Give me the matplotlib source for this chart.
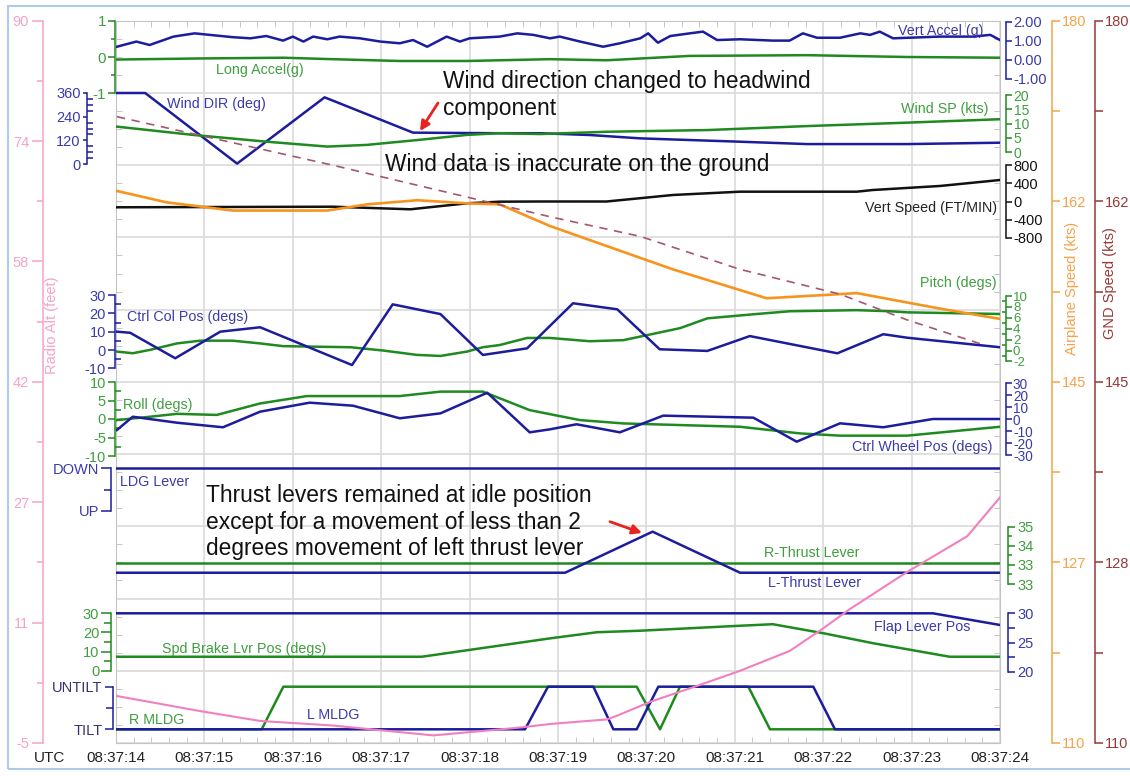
import numpy as np
import matplotlib
matplotlib.use('Agg')
import matplotlib.pyplot as plt
from matplotlib.patches import Rectangle

plt.rcParams['font.family'] = ['Liberation Sans', 'DejaVu Sans']
plt.rcParams['axes.unicode_minus'] = False

W, H = 1130, 776
# plot frame, pixels from top-left
X0, X1 = 116, 1000
Y0, Y1 = 20.7, 743

BLUE = '#1c1c9c'
BLUE_T = '#3b3bab'
GREEN = '#1f8a1f'
GREEN_T = '#3f9f3f'
ORANGE = '#f7941d'
ORANGE_A = '#f5a34a'
BROWN = '#9a3838'
PINK = '#f27fbf'
PINK_A = '#f6a3c8'
DASH = '#a65670'
RED = '#e8231f'

time_labels = ['08:37:14', '08:37:15', '08:37:16', '08:37:17', '08:37:18', '08:37:19',
               '08:37:20', '08:37:21', '08:37:22', '08:37:23', '08:37:24']

# ---- data (seconds after 08:37:14) ----
vert_accel_t = [0.01, 0.23, 0.38, 0.65, 0.89, 1.06, 1.32, 1.52, 1.70, 1.89, 2.00, 2.12, 2.23, 2.39,
                2.53, 2.76, 2.99, 3.21, 3.36, 3.52, 3.74, 3.89, 4.00, 4.34, 4.54, 4.72, 4.91, 5.02,
                5.25, 5.51, 5.70, 5.93, 6.02, 6.13, 6.27, 6.49, 6.64, 6.80, 7.06, 7.43, 7.62, 7.77,
                7.93, 8.19, 8.42, 8.53, 8.64, 8.79, 9.32, 9.69, 9.89, 10.0]
vert_accel = [0.69, 0.96, 0.78, 1.22, 1.39, 1.31, 1.19, 1.13, 1.25, 1.01, 1.22, 0.96, 1.22, 1.08,
              1.22, 1.13, 0.96, 0.87, 1.04, 0.69, 1.22, 0.96, 1.13, 1.22, 1.39, 1.31, 1.13, 1.22,
              0.96, 0.69, 0.87, 1.13, 1.39, 0.90, 1.25, 1.39, 1.48, 1.04, 1.08, 1.01, 1.01, 1.39,
              1.16, 1.16, 1.39, 1.31, 1.48, 1.13, 1.22, 1.22, 1.31, 1.04]

long_accel_t = [0.01, 0.95, 1.89, 2.45, 3.21, 3.97, 4.91, 5.55, 6.49, 7.82, 8.95, 10.0]
long_accel = [-0.07, -0.04, -0.02, -0.06, -0.11, -0.11, -0.06, -0.09, 0.03, 0.05, 0.0, -0.02]

wind_dir_t = [0.01, 0.33, 1.37, 2.36, 3.36, 4.34, 4.80, 5.36, 5.93, 7.06, 7.82, 8.95, 10.0]
wind_dir = [360, 360, 2, 338, 159, 156, 156, 147, 130, 113, 101, 101, 108]

wind_sp_t = [0.01, 0.87, 1.71, 2.39, 2.84, 3.41, 3.97, 4.34, 4.80, 5.55, 6.69, 7.82, 8.95, 10.0]
wind_sp = [8.9, 6.0, 3.6, 1.9, 2.5, 4.2, 6.0, 6.6, 6.3, 7.1, 7.7, 9.1, 10.3, 11.5]

vert_speed_t = [0.01, 2.45, 3.33, 3.97, 4.34, 4.80, 5.55, 6.30, 7.06, 8.38, 8.56, 9.32, 10.0]
vert_speed = [-128, -115, -172, -40, -4, 0, 0, 144, 217, 217, 254, 343, 475]

air_speed_t = [0.01, 0.57, 1.32, 2.39, 2.84, 3.41, 3.97, 4.34, 4.91, 6.30, 7.36, 8.19, 8.38, 9.32, 10.0]
air_speed = [163.5, 162.4, 161.6, 161.6, 162.2, 162.6, 162.3, 162.2, 160.1, 155.9, 153.1, 153.5,
             153.6, 152.1, 151.1]

gnd_speed_t = [0.01, 2.45, 4.91, 5.93, 7.06, 8.19, 8.95, 9.81]
gnd_speed = [170.7, 166.0, 161.0, 159.1, 155.9, 153.5, 151.0, 148.6]

pitch_t = [0.01, 0.19, 0.38, 0.69, 0.95, 1.32, 1.63, 1.89, 2.65, 3.02, 3.40, 3.67, 3.97, 4.15,
           4.34, 4.65, 4.91, 5.36, 5.74, 6.38, 6.69, 7.25, 7.62, 8.38, 8.76, 8.95, 10.0]
pitch = [-0.2, -0.5, 0.1, 1.3, 1.8, 1.8, 1.3, 0.8, 0.6, 0.0, -0.8, -1.0, -0.2, 0.6,
         1.0, 2.3, 2.3, 1.7, 1.9, 4.1, 5.9, 6.7, 7.2, 7.4, 7.2, 7.0, 6.7]

col_pos_t = [0.01, 0.16, 0.67, 1.18, 1.63, 2.67, 3.13, 3.67, 4.15, 4.65, 5.17, 5.67, 6.15, 6.69,
             7.17, 8.16, 8.68, 8.95, 10.0]
col_pos = [10.0, 9.4, -4.5, 10.0, 12.4, -8.2, 24.9, 19.6, -2.7, 0.9, 25.5, 22.2, 0.4, -0.5,
           7.6, -1.8, 8.6, 6.7, 1.5]

roll_t = [0.01, 0.38, 0.69, 1.14, 1.63, 2.16, 3.21, 3.67, 4.15, 4.68, 4.91, 5.25, 5.74, 7.06,
          7.74, 8.19, 8.95, 10.0]
roll = [-0.3, 0.6, 1.4, 1.1, 4.2, 6.2, 6.2, 7.4, 7.4, 2.4, 1.3, -0.3, -1.2, -2.1,
        -3.9, -4.5, -4.5, -2.1]

wheel_pos_t = [0.01, 0.19, 0.69, 1.21, 1.63, 2.19, 2.68, 3.21, 3.67, 4.20, 4.68, 4.91, 5.21, 5.70,
               6.19, 7.21, 7.70, 8.19, 8.68, 9.24, 10.0]
wheel_pos = [-9.2, 1.9, -3.1, -6.9, 6.1, 13.6, 11.1, 0.6, 4.7, 21.9, -11.1, -8.6, -4.4, -11.1,
             2.8, 1.1, -18.9, -3.6, -6.9, 0.0, 0.0]

ldg_lever_t = [0.0, 10.0]
ldg_lever = [1, 1]   # 1 = DOWN

r_thrust_t = [0.0, 10.0]
r_thrust = [33.12, 33.12]
l_thrust_t = [0.0, 5.08, 6.07, 7.06, 10.0]
l_thrust = [32.59, 32.59, 34.74, 32.59, 32.59]

spd_brake_t = [0.0, 3.46, 4.91, 5.44, 5.93, 7.06, 7.43, 8.00, 8.56, 9.43, 10.0]
spd_brake = [7.3, 7.3, 16.9, 20.1, 20.9, 23.5, 24.3, 19.6, 14.4, 7.3, 7.3]

flap_t = [0.0, 9.24, 10.0]
flap = [30, 30, 28.0]

r_mldg_t = [0.0, 1.648, 1.893, 5.89, 6.154, 6.38, 7.153, 7.398, 10.0]
r_mldg = [0, 0, 1, 1, 0, 1, 1, 0, 0]   # 1 = UNTILT
l_mldg_t = [0.0, 4.627, 4.887, 5.40, 5.626, 5.89, 6.135, 7.888, 8.133, 10.0]
l_mldg = [0, 0, 1, 1, 0, 0, 1, 1, 0, 0]

radio_alt_t = [0.0, 0.95, 1.63, 2.45, 3.59, 4.54, 4.91, 5.55, 5.67, 6.04, 6.57, 7.06, 7.62,
               7.99, 8.30, 8.95, 9.63, 10.0]
radio_alt = [1.2, -0.8, -2.1, -2.7, -4.0, -3.0, -2.5, -1.9, -1.4, 0.4, 2.5, 4.5, 7.1,
             10.0, 12.6, 17.5, 22.2, 27.3]

radio_alt_labels = ['-5', '11', '27', '42', '58', '74', '90']
air_speed_labels = ['110', '127', '145', '162', '180']
gnd_speed_labels = ['110', '128', '145', '162', '180']

# ---- figure ----
fig = plt.figure(figsize=(W / 100, H / 100), dpi=100)
fig.patch.set_facecolor('white')
fig.add_artist(Rectangle((8 / W, 1 - 769 / H), 1.2, (769 - 6) / H, transform=fig.transFigure,
                         fill=False, edgecolor='#aecbea', linewidth=1.5))

ax = fig.add_axes([X0 / W, 1 - Y1 / H, (X1 - X0) / W, (Y1 - Y0) / H])
ax.set_xlim(0, 10)
ax.set_ylim(0, 40)
ax.set_xticks(range(11))
ax.set_xticklabels(time_labels)
ax.set_xticks(np.arange(0, 10.01, 0.2), minor=True)
ax.set_yticks(range(0, 41, 4))
ax.set_yticks(range(0, 41), minor=True)
ax.grid(True, which='major', color='#dadada', linewidth=1.2)
for s in ax.spines.values():
    s.set_color('#c4c4c4')


def scale_axis(v_a, p_a, v_b, p_b, side, x_px, color, ticks, labels=None, minor=None,
               major_len=4, minor_len=3, minor_dir='out', pad=1.5, label_color=None, size=11):
    tw = ax.twinx()
    k = (v_b - v_a) / (p_b - p_a)
    tw.set_ylim(v_a + (Y1 - p_a) * k, v_a + (Y0 - p_a) * k)
    for s in tw.spines.values():
        s.set_visible(False)
    sp = tw.spines[side]
    sp.set_visible(True)
    sp.set_position(('axes', (x_px - X0) / (X1 - X0)))
    sp.set_color(color)
    sp.set_linewidth(1.1)
    sp.set_bounds(min(ticks), max(ticks))
    tw.yaxis.set_ticks_position(side)
    tw.set_yticks(ticks)
    if labels is not None:
        tw.set_yticklabels(labels)
    if minor is not None:
        tw.set_yticks(minor, minor=True)
    tw.tick_params(axis='y', which='major', direction='out', length=major_len, width=1.1,
                   color=color, labelcolor=label_color or color, labelsize=size, pad=pad)
    tw.tick_params(axis='y', which='minor', direction=minor_dir, length=minor_len, width=1.1,
                   color=color)
    return tw


# top band
a = scale_axis(1, 20.7, -1, 93.3, 'left', 115, GREEN, [-1, 0, 1], minor=[-0.5, 0.5],
               major_len=5, label_color=GREEN_T)
a.plot(long_accel_t, long_accel, color=GREEN, lw=1.8)
a = scale_axis(2, 21.7, -1, 79, 'right', 1006, BLUE, [-1, 0, 1, 2],
               labels=['-1.00', '0.00', '1.00', '2.00'], label_color=BLUE_T, size=10.5)
a.plot(vert_accel_t, vert_accel, color=BLUE, lw=1.8)

# wind
a = scale_axis(0, 164, 360, 93, 'left', 87, BLUE, [0, 120, 240, 360], minor=list(range(0, 361, 30)),
               major_len=3, minor_len=4, minor_dir='in', label_color=BLUE_T, size=10.5)
a.plot(wind_dir_t, wind_dir, color=BLUE, lw=1.8)
a = scale_axis(0, 152, 20, 95, 'right', 1006, GREEN, [0, 5, 10, 15, 20], label_color=GREEN_T,
               size=10)
a.plot(wind_sp_t, wind_sp, color=GREEN, lw=1.8)

# vertical speed
a = scale_axis(0, 201.5, 800, 165.3, 'right', 1006, '#111111', [-800, -400, 0, 400, 800],
               size=10.5)
a.plot(vert_speed_t, vert_speed, color='#111111', lw=1.8)

# pitch / column
a = scale_axis(0, 350.5, 10, 296, 'right', 1006, GREEN, [-2, 0, 2, 4, 6, 8, 10],
               minor=[-1, 1, 3, 5, 7, 9], minor_len=3, minor_dir='in', label_color=GREEN_T,
               size=9.5, pad=1)
a.plot(pitch_t, pitch, color=GREEN, lw=1.8)
a = scale_axis(0, 350, 30, 295, 'left', 115, BLUE, [-10, 0, 10, 20, 30], minor=[-5, 5, 15, 25],
               major_len=5, minor_len=4, minor_dir='in', label_color=BLUE_T, size=10.5)
a.plot(col_pos_t, col_pos, color=BLUE, lw=1.8)

# roll / wheel
a = scale_axis(0, 419, 10, 382, 'left', 115, GREEN, [-10, -5, 0, 5, 10],
               minor=[-7.5, -2.5, 2.5, 7.5], major_len=5, minor_len=4, minor_dir='in',
               label_color=GREEN_T, size=10.5)
a.plot(roll_t, roll, color=GREEN, lw=1.8)
a = scale_axis(0, 419, 30, 383, 'right', 1006, BLUE, [-30, -20, -10, 0, 10, 20, 30],
               label_color=BLUE_T, size=9.8, pad=1)
a.plot(wheel_pos_t, wheel_pos, color=BLUE, lw=1.8)

# landing gear lever
a = scale_axis(0, 511, 1, 468.3, 'left', 111, BLUE, [0, 1], labels=['UP', 'DOWN'], minor=[0.5],
               major_len=7, minor_len=5, label_color=BLUE_T, size=10.5)
a.plot(ldg_lever_t, ldg_lever, color=BLUE, lw=1.8)

# thrust levers
a = scale_axis(35, 526.7, 32, 584, 'right', 1008, GREEN, [32, 33, 34, 35],
               labels=['33', '33', '34', '35'], minor=[32.5, 33.5, 34.5], major_len=5,
               label_color=GREEN_T, size=10.5)
a.plot(r_thrust_t, r_thrust, color=GREEN, lw=1.8)
a.plot(l_thrust_t, l_thrust, color=BLUE, lw=1.8)

# speed brake / flap
a = scale_axis(0, 670.7, 30, 613.3, 'left', 111, GREEN, [0, 10, 20, 30], minor=[5, 15, 25],
               major_len=7, minor_len=5, label_color=GREEN_T, size=10.5)
a.plot(spd_brake_t, spd_brake, color=GREEN, lw=1.8)
a = scale_axis(20, 671.7, 30, 613.3, 'right', 1008, BLUE, [20, 25, 30], minor=[22.5, 27.5],
               major_len=5, minor_len=5, label_color=BLUE_T, size=10.5)
a.plot(flap_t, flap, color=BLUE, lw=1.8)

# main gear tilt
a = scale_axis(0, 729.3, 1, 686.7, 'left', 113, BLUE, [0, 1], labels=['TILT', 'UNTILT'],
               minor=[0.5], major_len=6, minor_len=5, label_color='#34346e', size=10.5)
a.plot(r_mldg_t, r_mldg, color=GREEN, lw=1.8)
a.plot(l_mldg_t, l_mldg, color=BLUE, lw=1.8)

# speeds
a = scale_axis(110, 743, 180, 20.7, 'right', 1051.5, ORANGE_A, list(np.linspace(110, 180, 5)),
               labels=air_speed_labels, minor=list(np.linspace(118.75, 171.25, 4)),
               major_len=6, minor_len=6, pad=1.5, size=10.5)
a.plot(air_speed_t, air_speed, color=ORANGE, lw=1.9)
a = scale_axis(110, 743, 180, 20.7, 'right', 1095, BROWN, list(np.linspace(110, 180, 5)),
               labels=gnd_speed_labels, minor=list(np.linspace(118.75, 171.25, 4)),
               major_len=6, minor_len=6, pad=1, size=10.5)
a.plot(gnd_speed_t, gnd_speed, color=DASH, lw=1.2, dashes=(5, 4))

# radio altitude
a = scale_axis(-5, 743, 90, 20.7, 'left', 43, PINK_A, list(np.linspace(-5, 90, 7)),
               labels=radio_alt_labels, minor=list(np.linspace(2.9167, 82.0833, 6)),
               major_len=8, minor_len=4, pad=2, size=10.5)
a.plot(radio_alt_t, radio_alt, color=PINK, lw=1.5)

# frame ticks (twinx moved them)
ax.yaxis.set_ticks_position('both')
ax.xaxis.set_ticks_position('both')
ax.tick_params(axis='both', which='both', direction='in', color='#bdbdbd')
ax.tick_params(axis='y', which='major', length=0, labelleft=False, labelright=False)
ax.tick_params(axis='y', which='minor', length=4)
ax.tick_params(axis='x', which='major', length=0, labelsize=11, labelcolor='#222222', pad=6,
               labeltop=False)
ax.tick_params(axis='x', which='minor', length=4)


def px_text(x, y, s, color, size=10.3, ha='left', **kw):
    fig.text(x / W, 1 - y / H, s, color=color, fontsize=size, ha=ha, va='center', **kw)


px_text(50, 758, 'UTC', '#222222', size=11, ha='center')
px_text(898, 31, 'Vert Accel (g)', BLUE_T)
px_text(216, 70, 'Long Accel(g)', GREEN_T)
px_text(167, 104, 'Wind DIR (deg)', BLUE_T)
px_text(901, 109, 'Wind SP (kts)', GREEN_T)
px_text(865, 208, 'Vert Speed (FT/MIN)', '#222222')
px_text(920, 283, 'Pitch (degs)', GREEN_T)
px_text(127, 317, 'Ctrl Col Pos (degs)', BLUE_T)
px_text(123, 405, 'Roll (degs)', GREEN_T)
px_text(852, 447, 'Ctrl Wheel Pos (degs)', BLUE_T)
px_text(120, 482, 'LDG Lever', BLUE_T)
px_text(764, 553, 'R-Thrust Lever', GREEN_T)
px_text(768, 583, 'L-Thrust Lever', BLUE_T)
px_text(874, 627, 'Flap Lever Pos', BLUE_T)
px_text(162, 649, 'Spd Brake Lvr Pos (degs)', GREEN_T)
px_text(129, 720, 'R MLDG', GREEN_T)
px_text(307, 715, 'L MLDG', BLUE_T)

px_text(52, 325, 'Radio Alt (feet)', PINK_A, size=10.5, ha='center', rotation=90)
px_text(1072, 288, 'Airplane Speed (kts)', ORANGE_A, size=10.5, ha='center', rotation=90)
px_text(1110, 283, 'GND Speed (kts)', BROWN, size=10.5, ha='center', rotation=90)

px_text(443, 95, 'Wind direction changed to headwind\ncomponent', '#111111', size=16.4,
        linespacing=1.2)
px_text(385, 164, 'Wind data is inaccurate on the ground', '#111111', size=16.4)
px_text(206, 522, 'Thrust levers remained at idle position\nexcept for a movement of less than 2\n'
        'degrees movement of left thrust lever', '#111111', size=16.4, linespacing=1.2)

arrow = dict(arrowstyle='-|>', color=RED, lw=2, mutation_scale=14, shrinkA=0, shrinkB=0)
ax.annotate('', xy=(420, H - 131), xytext=(438, H - 103), xycoords='figure pixels',
            textcoords='figure pixels', arrowprops=arrow)
ax.annotate('', xy=(642, H - 533), xytext=(610, H - 521.7), xycoords='figure pixels',
            textcoords='figure pixels', arrowprops=arrow)

fig.savefig('out.png', dpi=100)
